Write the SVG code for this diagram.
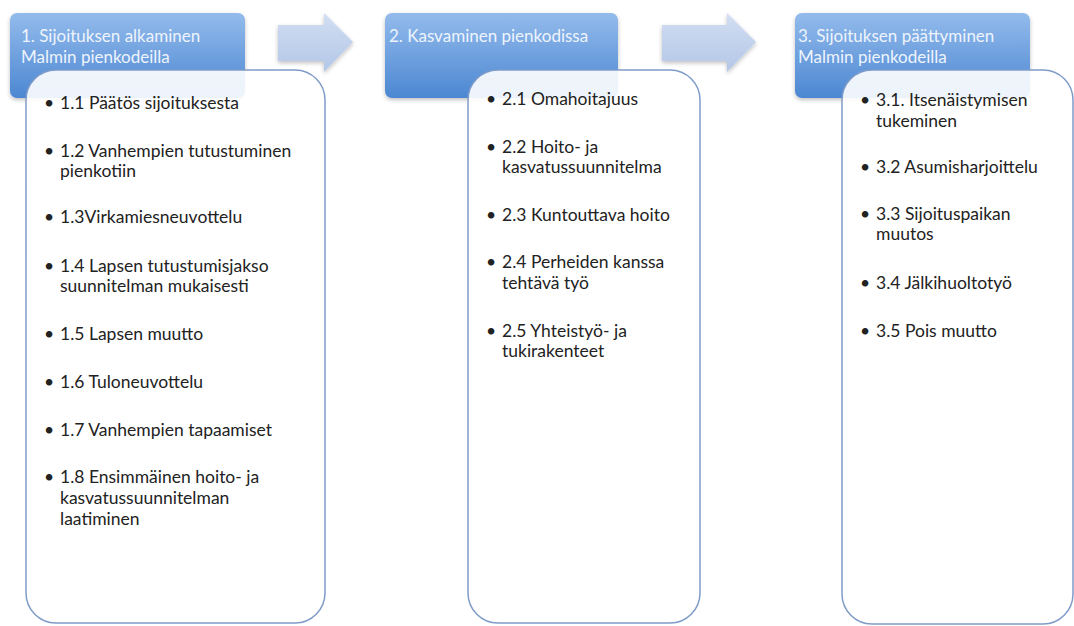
<svg xmlns="http://www.w3.org/2000/svg" width="1074" height="626" viewBox="0 0 1074 626">
<defs>
<linearGradient id="hdr" x1="0" y1="0" x2="0" y2="1">
<stop offset="0" stop-color="#93bbec"/>
<stop offset="1" stop-color="#4c87d2"/>
</linearGradient>
<linearGradient id="arr" x1="0" y1="0" x2="0" y2="1">
<stop offset="0" stop-color="#d2def2"/>
<stop offset="1" stop-color="#b3c7e7"/>
</linearGradient>
<filter id="sh" x="-10%" y="-10%" width="120%" height="130%">
<feGaussianBlur in="SourceAlpha" stdDeviation="2"/>
<feOffset dy="2"/>
<feComponentTransfer><feFuncA type="linear" slope="0.25"/></feComponentTransfer>
<feMerge><feMergeNode/><feMergeNode in="SourceGraphic"/></feMerge>
</filter>
</defs>
<style>
.hdr{fill:url(#hdr);filter:url(#sh)}
.ht{font-family:Lato,"Open Sans",sans-serif;font-size:17px;fill:#eef4fc}
.box{fill:#ffffff;fill-opacity:0.9;stroke:#7f9bc8;stroke-width:1.5}
.bt{font-family:Lato,"Open Sans",sans-serif;font-size:17.5px;fill:#222222}
.arrow{fill:url(#arr);filter:url(#sh)}
</style>
<rect width="1074" height="626" fill="#ffffff"/>
<g id="connectors">
<path class="arrow" d="M278,25 H324 V13 L353,42 L324,72 V61 H278 Z"/>
<path class="arrow" d="M662,25 H727 V13 L756,42 L727,72 V61 H662 Z"/>
</g>
<g id="stage1">
<rect class="hdr" x="10" y="13" width="235" height="85" rx="7"/>
<text class="ht" x="21" y="42">1. Sijoituksen alkaminen</text>
<text class="ht" x="21" y="63">Malmin pienkodeilla</text>
<rect class="box" x="26" y="70" width="299" height="553" rx="30"/>
<g class="bt">
<text x="44" y="109">•</text><text x="60" y="109">1.1 Päätös sijoituksesta</text>
<text x="44" y="157">•</text><text x="60" y="157">1.2 Vanhempien tutustuminen</text>
<text x="60" y="177">pienkotiin</text>
<text x="44" y="223">•</text><text x="60" y="223">1.3Virkamiesneuvottelu</text>
<text x="44" y="272">•</text><text x="60" y="272">1.4 Lapsen tutustumisjakso</text>
<text x="60" y="292">suunnitelman mukaisesti</text>
<text x="44" y="340">•</text><text x="60" y="340">1.5 Lapsen muutto</text>
<text x="44" y="388">•</text><text x="60" y="388">1.6 Tuloneuvottelu</text>
<text x="44" y="436">•</text><text x="60" y="436">1.7 Vanhempien tapaamiset</text>
<text x="44" y="483">•</text><text x="60" y="483">1.8 Ensimmäinen hoito- ja</text>
<text x="60" y="504">kasvatussuunnitelman</text>
<text x="60" y="525">laatiminen</text>
</g>
</g>
<g id="stage2">
<rect class="hdr" x="385" y="13" width="233" height="85" rx="7"/>
<text class="ht" x="389" y="42">2. Kasvaminen pienkodissa</text>
<rect class="box" x="468" y="70" width="232" height="553" rx="30"/>
<g class="bt">
<text x="486" y="105">•</text><text x="502" y="105">2.1 Omahoitajuus</text>
<text x="486" y="153">•</text><text x="502" y="153">2.2 Hoito- ja</text>
<text x="502" y="173">kasvatussuunnitelma</text>
<text x="486" y="221">•</text><text x="502" y="221">2.3 Kuntouttava hoito</text>
<text x="486" y="268">•</text><text x="502" y="268">2.4 Perheiden kanssa</text>
<text x="502" y="289">tehtävä työ</text>
<text x="486" y="337">•</text><text x="502" y="337">2.5 Yhteistyö- ja</text>
<text x="502" y="357">tukirakenteet</text>
</g>
</g>
<g id="stage3">
<rect class="hdr" x="795" y="13" width="235" height="85" rx="7"/>
<text class="ht" x="798" y="42">3. Sijoituksen päättyminen</text>
<text class="ht" x="798" y="63">Malmin pienkodeilla</text>
<rect class="box" x="842" y="70" width="231" height="554" rx="30"/>
<g class="bt">
<text x="860" y="106">•</text><text x="876" y="106">3.1. Itsenäistymisen</text>
<text x="876" y="127">tukeminen</text>
<text x="860" y="173">•</text><text x="876" y="173">3.2 Asumisharjoittelu</text>
<text x="860" y="220">•</text><text x="876" y="220">3.3 Sijoituspaikan</text>
<text x="876" y="240">muutos</text>
<text x="860" y="289">•</text><text x="876" y="289">3.4 Jälkihuoltotyö</text>
<text x="860" y="337">•</text><text x="876" y="337">3.5 Pois muutto</text>
</g>
</g>
</svg>
